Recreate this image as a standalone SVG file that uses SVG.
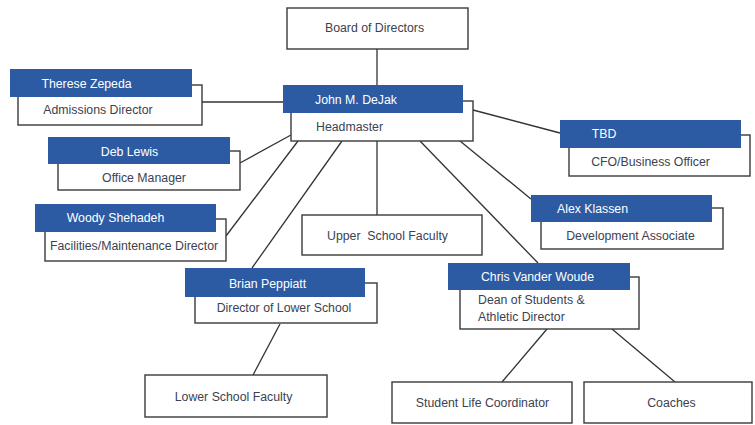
<svg xmlns="http://www.w3.org/2000/svg" width="755" height="425" viewBox="0 0 755 425">
<style>
.bx{fill:#fff;stroke:#3a3a3a;stroke-width:1.4}
.bar{fill:#2c5ba3}
.t{font-family:"Liberation Sans",Arial,sans-serif;font-size:12.3px;fill:#3b4252;text-anchor:middle}
.n{font-family:"Liberation Sans",Arial,sans-serif;font-size:12.3px;fill:#ffffff;text-anchor:middle}
.s{text-anchor:start}
.c{stroke:#333;stroke-width:1.3;fill:none}
</style>
<rect width="755" height="425" fill="#fff"/>
<g id="connectors">
<line class="c" x1="377" y1="49" x2="377" y2="85"/>
<line class="c" x1="202" y1="102" x2="283" y2="102"/>
<line class="c" x1="240" y1="163" x2="291" y2="135"/>
<line class="c" x1="298" y1="141" x2="226" y2="236"/>
<line class="c" x1="342" y1="141" x2="252" y2="268"/>
<line class="c" x1="377" y1="141" x2="377" y2="215"/>
<line class="c" x1="420" y1="141" x2="538" y2="263"/>
<line class="c" x1="460" y1="141" x2="531" y2="199"/>
<line class="c" x1="473" y1="110" x2="560" y2="133"/>
<line class="c" x1="280" y1="324" x2="253" y2="375"/>
<line class="c" x1="547" y1="329" x2="502" y2="382"/>
<line class="c" x1="612" y1="329" x2="675" y2="382"/>
</g>
<g id="board">
<rect class="bx" x="287" y="8" width="181" height="41"/>
<text class="t" x="374.5" y="32">Board of Directors</text>
</g>
<g id="john">
<rect class="bx" x="291" y="101" width="182" height="40"/>
<rect class="bar" x="283" y="85" width="180" height="28"/>
<text class="n" x="356" y="104">John M. DeJak</text>
<text class="t" x="349.5" y="131">Headmaster</text>
</g>
<g id="therese">
<rect class="bx" x="18" y="85" width="184" height="40"/>
<rect class="bar" x="10" y="69" width="182" height="28"/>
<text class="n" x="86.5" y="88">Therese Zepeda</text>
<text class="t" x="98" y="114">Admissions Director</text>
</g>
<g id="deb">
<rect class="bx" x="58" y="151" width="182" height="39"/>
<rect class="bar" x="48" y="137" width="182" height="27"/>
<text class="n" x="129.5" y="156">Deb Lewis</text>
<text class="t" x="144" y="182">Office Manager</text>
</g>
<g id="woody">
<rect class="bx" x="45" y="219" width="181" height="42"/>
<rect class="bar" x="35" y="204" width="181" height="28"/>
<text class="n" x="115.5" y="222">Woody Shehadeh</text>
<text class="t" x="134" y="250">Facilities/Maintenance Director</text>
</g>
<g id="tbd">
<rect class="bx" x="569" y="135" width="181" height="41"/>
<rect class="bar" x="560" y="120" width="181" height="28"/>
<text class="n" x="604" y="138">TBD</text>
<text class="t" x="650.5" y="166">CFO/Business Officer</text>
</g>
<g id="alex">
<rect class="bx" x="541" y="208" width="182" height="41"/>
<rect class="bar" x="531" y="195" width="181" height="27"/>
<text class="n" x="592.5" y="213">Alex Klassen</text>
<text class="t" x="630.5" y="240">Development Associate</text>
</g>
<g id="upper">
<rect class="bx" x="302" y="215" width="180" height="40"/>
<text class="t" x="387.5" y="240" xml:space="preserve">Upper  School Faculty</text>
</g>
<g id="chris">
<rect class="bx" x="460" y="277" width="179" height="52"/>
<rect class="bar" x="448" y="263" width="182" height="27"/>
<text class="n" x="537.5" y="281">Chris Vander Woude</text>
<text class="t s" x="478" y="304">Dean of Students &amp;</text>
<text class="t s" x="478" y="321">Athletic Director</text>
</g>
<g id="brian">
<rect class="bx" x="195" y="283" width="182" height="40"/>
<rect class="bar" x="185" y="268" width="180" height="29"/>
<text class="n" x="267.5" y="288">Brian Peppiatt</text>
<text class="t" x="284" y="312">Director of Lower School</text>
</g>
<g id="lower">
<rect class="bx" x="145" y="375" width="182" height="42"/>
<text class="t" x="233.5" y="401">Lower School Faculty</text>
</g>
<g id="studentlife">
<rect class="bx" x="392" y="382" width="180" height="41"/>
<text class="t" x="482.5" y="407">Student Life Coordinator</text>
</g>
<g id="coaches">
<rect class="bx" x="584" y="382" width="168" height="41"/>
<text class="t" x="671.5" y="407">Coaches</text>
</g>
</svg>
